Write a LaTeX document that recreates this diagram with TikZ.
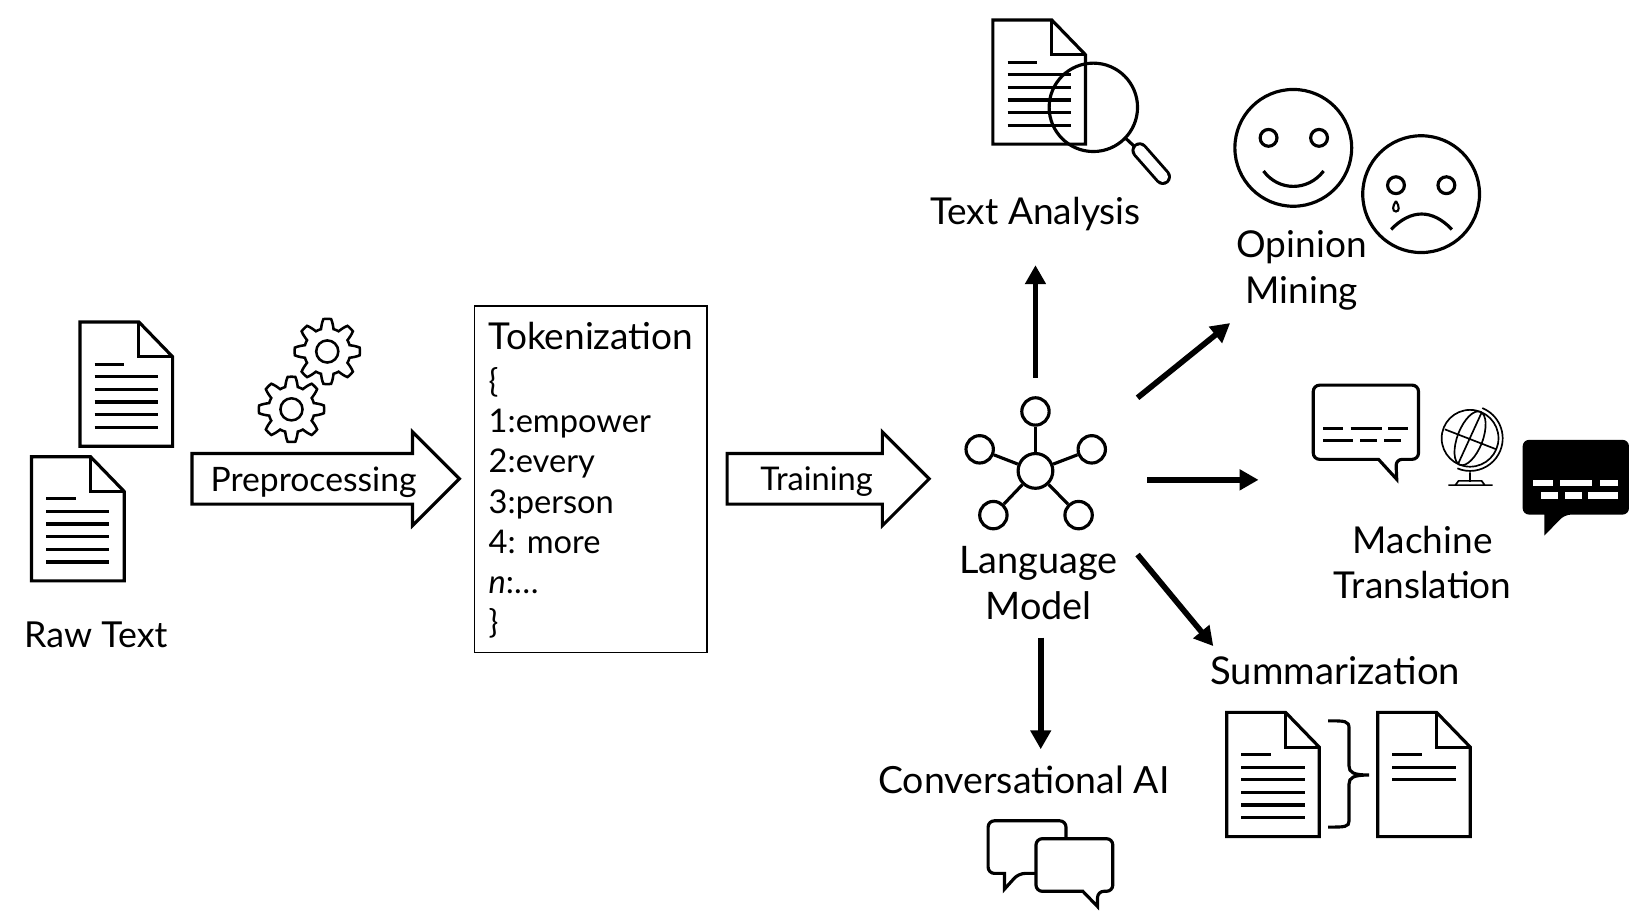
\documentclass[tikz,border=0pt]{standalone}
\usepackage{fontspec}
\setmainfont{Lato}
\usetikzlibrary{arrows.meta,shapes.arrows}
\newcommand{\labfont}[1]{\fontsize{#1}{21.5}\selectfont}
\newcommand{\listfont}{\fontsize{15.5}{19.15}\selectfont}
\tikzset{
  iconline/.style={line width=1.5pt,draw=black},
  lab/.style={font=\labfont{17.6},align=center,inner sep=0pt},
  blockarrow/.style={draw,line width=1.5pt,single arrow,single arrow head extend=10pt,
    single arrow head indent=0pt,minimum width=44.5pt,inner sep=0pt},
  sat/.style={circle,draw,line width=1.5pt,fill=white,minimum size=13pt,inner sep=0pt},
  outarrow/.style={line width=2.7pt,-{Triangle[length=9pt,width=9.5pt]}},
  pics/docicon/.style={code={
    \draw[iconline,fill=white] (0,0) -- (56,0) -- (88,33) -- (88,118) -- (0,118) -- cycle;
    \draw[iconline] (56,0) -- (56,33) -- (88,33);
    \draw[iconline] (14,40) -- (42,40);
    \foreach \ly in {#1} \draw[iconline] (14,\ly) -- (74,\ly);
  }},
  pics/gearicon/.style={code={
    \draw[line width=1.2pt,fill=white] plot[domain=0:360,samples=161]
      (\x:{26.5+4.5*max(-1,min(1,1.7*cos(8*\x)))}) -- cycle;
    \draw[line width=1.2pt] (0,0) circle[radius=10.5];
  }},
}

\begin{document}
\begin{tikzpicture}[x=0.5pt,y=-0.5pt]
  \useasboundingbox (0,0) rectangle (1568,878);
  % raw text
  \pic at (76,306) {docicon={52,64,76,88,100}};
  \pic at (30,434) {docicon={52,64,76,88,100}};
  \node[lab,font=\labfont{17}] (rawtext) at (91,603) {Raw Text};
  % preprocessing
  \pic at (311,334) {gearicon};
  \pic at (277,389) {gearicon};
  \node[blockarrow,minimum height=127pt] (prep) at (297.5,455) {\rule{0pt}{22pt}};
  \node[lab,font=\fontsize{16}{19}\selectfont] (preplabel) at (298,458) {Preprocessing};
  % tokens
  \node[draw,line width=0.8pt,minimum width=110.5pt,minimum height=164.5pt,inner sep=0pt] (tokbox) at (561.5,455.5) {};
  \node[lab,anchor=west] (toktitle) at (464,319) {Tokenization};
  \node[lab,font=\listfont,anchor=north west,align=left] (toklist) at (464,348.5)
    {\{\\1:empower\\2:every\\3:person\\4: more\\\textit{n}:\dots\\\}};
  \node[blockarrow,minimum height=96pt] (train) at (775,455) {\rule{0pt}{22pt}};
  \node[lab,font=\listfont] (trainlabel) at (776,458) {Training};
  % language model
  \node[sat,minimum size=16.5pt] (hub) at (984,447.5) {};
  \node[sat] (satA) at (984,391) {};
  \node[sat] (satB) at (931,427) {};
  \node[sat] (satC) at (1037.5,427) {};
  \node[sat] (satD) at (944,489.5) {};
  \node[sat] (satE) at (1025,489.5) {};
  \foreach \s in {satA,satB,satC,satD,satE} \draw[line width=1.5pt] (hub) -- (\s);
  \node[lab,font=\labfont{18}] (model) at (987,554) {Language\\Model};
  % text analysis
  \pic at (943.5,19) {docicon={52,64,76,88,100}};
  \draw[line width=1.5pt] (1039,102) circle[radius=42];
  \draw[line width=1.5pt] (1069.8,131.5) -- (1080,141);
  \draw[line width=1.4pt,double,double distance=5pt,line cap=round] (1083,143) -- (1105,168);
  \node[lab] (analysis) at (984,203) {Text Analysis};
  % opinion mining
  \draw[line width=1.5pt] (1229,140.5) circle[radius=55.5];
  \draw[line width=1.5pt] (1205.5,131) circle[radius=8] (1253.5,131) circle[radius=8];
  \draw[line width=1.5pt] (1200.7,162.5) .. controls (1215,182) and (1243,182) .. (1257.8,162.5);
  \draw[line width=1.5pt] (1350.5,184.5) circle[radius=55.5];
  \draw[line width=1.5pt] (1326.6,176) circle[radius=8] (1374.5,176) circle[radius=8];
  \draw[line width=1pt] (1326.6,191) .. controls (1323,196) and (1323,201) .. (1326.6,201)
    .. controls (1330,201) and (1330,196) .. (1326.6,191);
  \draw[line width=1.5pt] (1322,218) .. controls (1341,198.5) and (1361,198.5) .. (1379.7,218);
  \node[lab] (opinion) at (1237,257) {Opinion\\Mining};
  % machine translation
  \draw[line width=1.5pt,rounded corners=3pt] (1248,366) -- (1348,366) -- (1348,436.5) -- (1326.5,436.5)
    [sharp corners] -- (1327.3,455.5) -- (1310,436.5) [rounded corners=3pt] -- (1248,436.5) -- cycle;
  \foreach \a/\b in {1257.6/1276,1283.6/1313,1319.4/1338.4} \draw[line width=1.5pt] (\a,407) -- (\b,407);
  \foreach \a/\b in {1257.6/1286,1292.4/1309,1315.5/1331} \draw[line width=1.5pt] (\a,419) -- (\b,419);
  \draw[line width=0.8pt] (1397,416.5) circle[radius=27];
  \draw[line width=0.8pt,rotate around={-21:(1397,416.5)}] (1397,416.5) ellipse[x radius=12,y radius=27];
  \draw[line width=0.8pt] (1373,408) -- (1422,427) (1408,392) -- (1386,440);
  \draw[line width=0.8pt] (1408.6,387.8) arc[start angle=-68,end angle=113,radius=31];
  \draw[line width=0.8pt] (1397,449) -- (1397,458) (1376.4,461) -- (1418.5,461)
    (1383,461) -- (1386,457) -- (1408,457) -- (1411,461);
  \fill[rounded corners=3pt] (1447,418) -- (1548,418) -- (1548,489) -- (1487,489)
    [sharp corners] -- (1467.6,509) -- (1467.6,489) [rounded corners=3pt] -- (1447,489) -- cycle;
  \foreach \a/\b in {1457/1476,1482.5/1512.5,1520/1538} \fill[white] (\a,456) rectangle (\b,462);
  \foreach \a/\b in {1464.4/1481,1487.2/1503,1509.4/1538} \fill[white] (\a,468) rectangle (\b,474);
  \node[lab] (translation) at (1352,534.5) {Machine\\Translation};
  % summarization
  \node[lab,font=\labfont{18.2}] (summary) at (1269,637) {Summarization};
  \pic at (1165.7,677) {docicon={52,64,76,88,100}};
  \pic at (1309.2,677) {docicon={52,64}};
  \draw[line width=1.5pt] (1262,685) .. controls (1278,685) and (1282,685) .. (1282,692) -- (1282,728)
    .. controls (1282,734) and (1286,736.5) .. (1301,736.5) .. controls (1286,736.5) and (1282,739) .. (1282,745)
    -- (1282,780) .. controls (1282,786) and (1278,786) .. (1262,786);
  % conversational ai
  \node[lab,font=\labfont{17.8}] (chat) at (973,741) {Conversational AI};
  \draw[line width=1.5pt,rounded corners=3pt] (939,780) -- (1013,780) -- (1013,830) -- (968,830)
    [sharp corners] -- (954.5,845) -- (954.5,830) [rounded corners=3pt] -- (939,830) -- cycle;
  \draw[line width=1.5pt,fill=white,rounded corners=3pt] (984.5,797) -- (1057.5,797) -- (1057.5,847) -- (1043,847)
    [sharp corners] -- (1043,861.5) -- (1029,847) [rounded corners=3pt] -- (984.5,847) -- cycle;
  % outputs of the model
  \coordinate (upA) at (984,359);
  \coordinate (upB) at (984,252);
  \coordinate (neA) at (1081,378);
  \coordinate (neB) at (1169,307);
  \coordinate (eaA) at (1090,456);
  \coordinate (eaB) at (1196,456);
  \coordinate (seA) at (1081,527);
  \coordinate (seB) at (1153,614);
  \coordinate (soA) at (989,606);
  \coordinate (soB) at (989,712);
  \path[outarrow]
    (upA) edge (upB) (neA) edge (neB) (eaA) edge (eaB) (seA) edge (seB) (soA) edge (soB);
\end{tikzpicture}
\end{document}
